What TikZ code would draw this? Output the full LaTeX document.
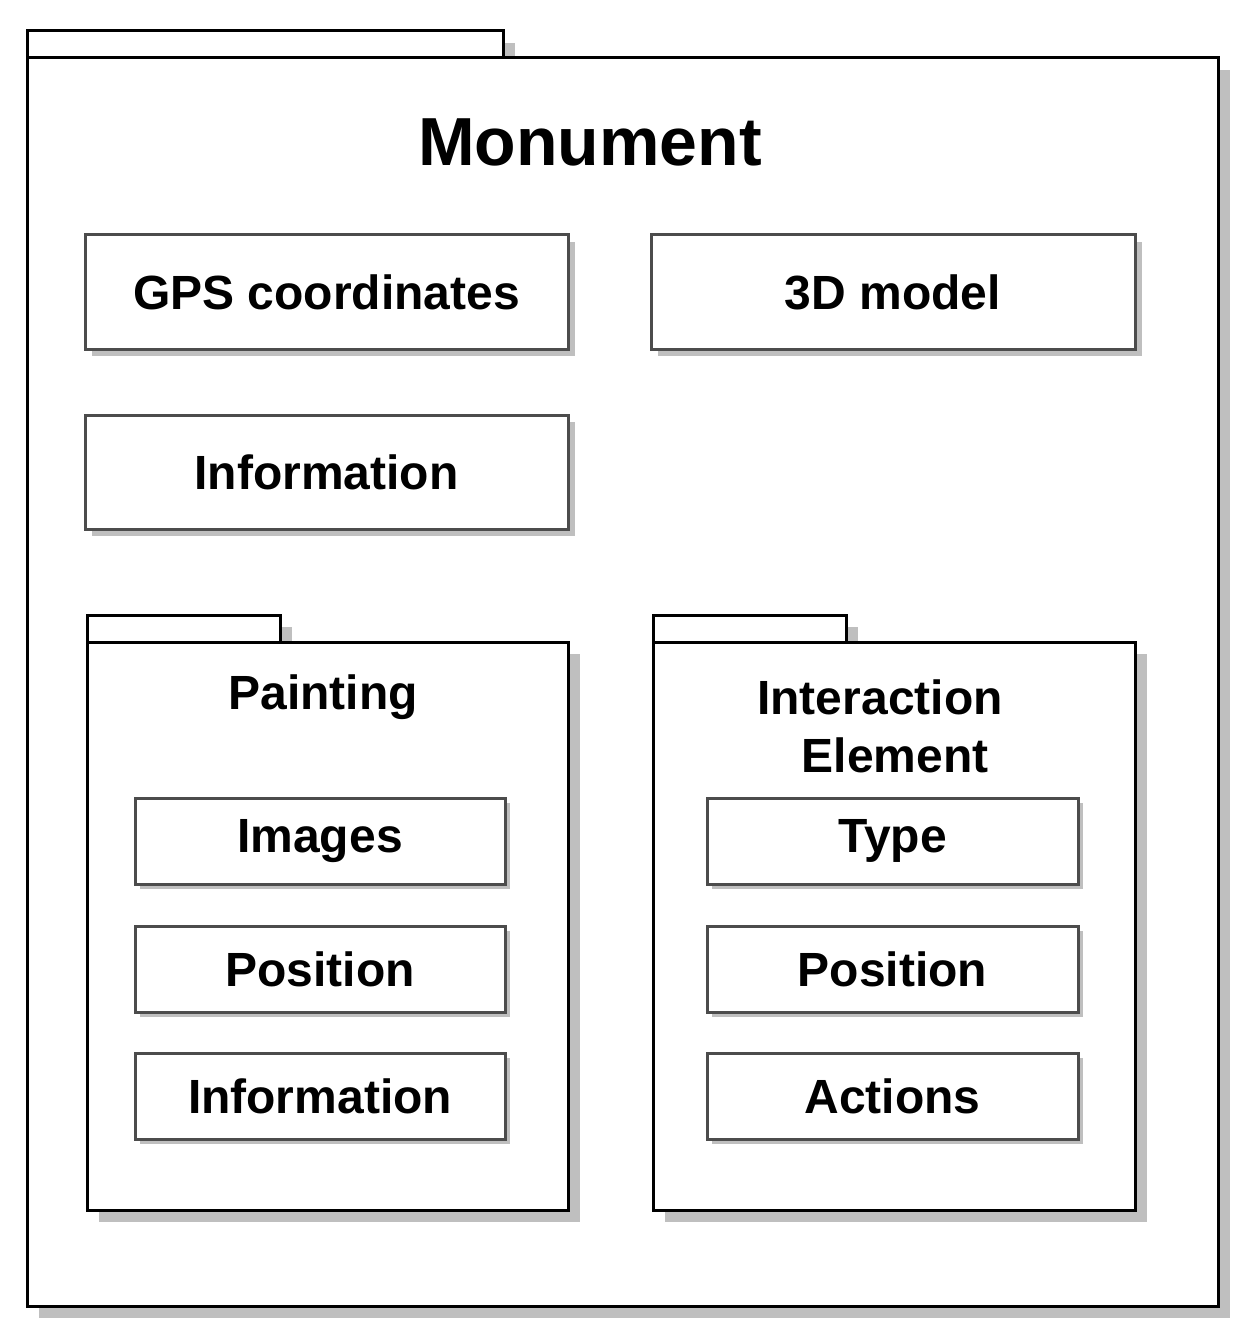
\documentclass[tikz,border=0pt]{standalone}
\usepackage{fontspec}
\setmainfont{Liberation Sans}
\begin{document}
\begin{tikzpicture}[x=1pt,y=-1pt,
  shad/.style={fill=black!25,draw=none},
  pk/.style={draw=black,line width=3pt,fill=white},
  bx/.style={draw=black!70,line width=3pt,fill=white},
  lbl/.style={font=\bfseries\fontsize{48}{58}\selectfont,align=center}]
\useasboundingbox (0,0) rectangle (1249,1340);
% outer package
\fill[shad] (39,70) rectangle (1230,1318);
\fill[shad] (39,43) rectangle (515,70);
\draw[pk] (27,31) rectangle (503,58);
\draw[pk] (27,58) rectangle (1218,1306);
\node[font=\bfseries\fontsize{68}{74}\selectfont] (mon) at (590,142) {Monument};
% top boxes
\fill[shad] (92,242) rectangle (575,356);
\draw[bx] (85,235) rectangle (568,349) node[midway,lbl] (gps) {GPS coordinates};
\fill[shad] (658,242) rectangle (1142,356);
\draw[bx] (651,235) rectangle (1135,349) node[midway,lbl] (model) {3D model};
\fill[shad] (92,422) rectangle (575,536);
\draw[bx] (85,415) rectangle (568,529) node[midway,lbl] (info) {Information};
% painting
\fill[shad] (99,654) rectangle (580,1222);
\fill[shad] (99,627) rectangle (292,654);
\draw[pk] (87,615) rectangle (280,642);
\draw[pk] (87,642) rectangle (568,1210);
\node[lbl] (pt) at (323,697) {Painting};
% interaction
\fill[shad] (665,654) rectangle (1147,1222);
\fill[shad] (665,627) rectangle (858,654);
\draw[pk] (653,615) rectangle (846,642);
\draw[pk] (653,642) rectangle (1135,1210);
\node[lbl,text width=400pt] (ie) at (880,726) {Interaction\\\hspace*{30pt}Element};
% inner boxes
\foreach \n/\y/\t in {a/798/Images,b/926/Position,c/1053/Information}{
  \fill[shad] (140,\y+5) rectangle (510,\y+91);
  \draw[bx] (135,\y) rectangle (505,\y+86) node[midway,lbl] (p\n) {\t};}
\foreach \n/\y/\t in {a/798/Type,b/926/Position,c/1053/Actions}{
  \fill[shad] (712,\y+5) rectangle (1083,\y+91);
  \draw[bx] (707,\y) rectangle (1078,\y+86) node[midway,lbl] (i\n) {\t};}
\end{tikzpicture}
\end{document}
